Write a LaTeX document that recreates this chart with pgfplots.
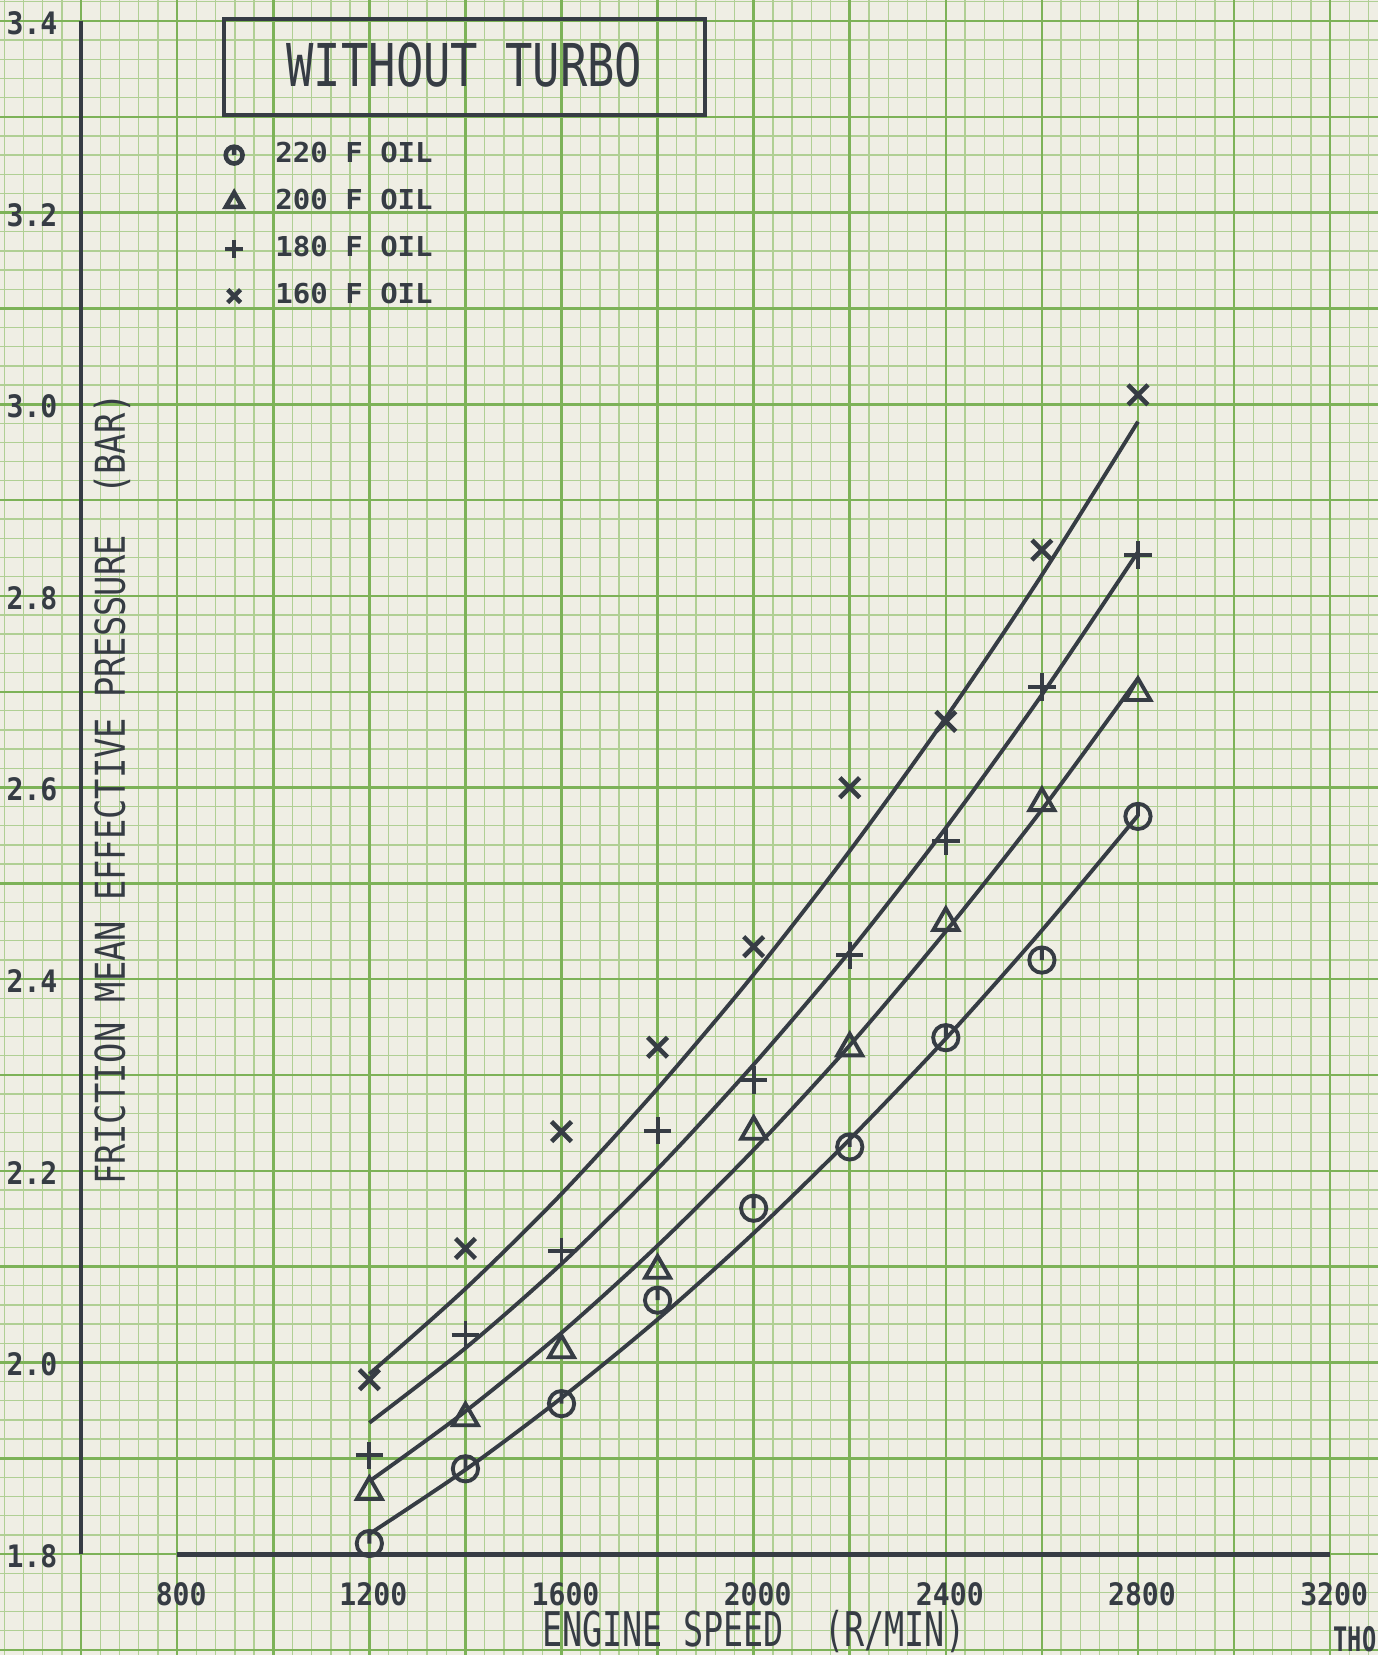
\documentclass[border=0pt]{standalone}
\usepackage{fontspec}
\usepackage{pgfplots}
\usepackage{pgfplotstable}
\pgfplotsset{compat=1.18}

% plotter lettering: a monospaced sans, squeezed or widened per use
\newfontfamily\titlefont[FakeStretch=0.77]{DejaVu Sans Mono}
\newfontfamily\xlabfont[FakeStretch=0.70]{DejaVu Sans Mono}
\newfontfamily\ylabfont[FakeStretch=0.82]{DejaVu Sans Mono}
\newfontfamily\tickfont[FakeStretch=0.91]{DejaVu Sans Mono}
\newfontfamily\legfont[FakeStretch=1.06]{DejaVu Sans Mono}

\definecolor{paper}{RGB}{239,238,228}
\definecolor{gridminor}{RGB}{176,207,148}
\definecolor{gridmajor}{RGB}{125,178,88}
\definecolor{ink}{RGB}{54,60,68}

% circle with a short stroke from the top down to the centre
\pgfdeclareplotmark{circtick}{%
  \pgfpathcircle{\pgfpointorigin}{\pgfplotmarksize}%
  \pgfpathmoveto{\pgfqpoint{0pt}{\pgfplotmarksize}}%
  \pgfpathlineto{\pgfpointorigin}%
  \pgfusepathqstroke}

% measured points (bar)
\pgfplotstableread{
rpm  c220  t200  p180  x160
1200 1.811 1.865 1.903 1.982
1400 1.889 1.942 2.029 2.119
1600 1.957 2.013 2.116 2.241
1800 2.065 2.096 2.242 2.329
2000 2.161 2.241 2.295 2.434
2200 2.225 2.328 2.425 2.600
2400 2.339 2.459 2.544 2.669
2600 2.420 2.584 2.705 2.848
2800 2.570 2.699 2.843 3.010
}\points

% fitted curves
\pgfplotstableread{
rpm  c220  t200  p180  x160
1200 1.821 1.876 1.937 1.988
1400 1.888 1.949 2.015 2.077
1600 1.963 2.031 2.103 2.176
1800 2.045 2.122 2.202 2.286
2000 2.135 2.222 2.311 2.405
2200 2.233 2.331 2.429 2.534
2400 2.338 2.450 2.558 2.673
2600 2.451 2.577 2.697 2.822
2800 2.571 2.714 2.846 2.982
}\curves

\begin{document}
\begin{tikzpicture}
\begin{axis}[
  width=137.8mm, height=165.5mm, scale only axis,
  xmin=431.1, xmax=3299.6, ymin=1.6946, ymax=3.4221,
  axis line style={draw=none},
  axis background/.style={fill=paper},
  xtick=\empty, ytick=\empty,
  clip=false,
  legend cell align=left,
  legend style={draw=none, fill=none, at={(0.1633,0.9205)}, anchor=north west,
    inner sep=0pt, outer sep=0pt, row sep=0pt,
    nodes={inner sep=0pt, minimum height=4.7mm, text=ink,
      font=\legfont\bfseries\fontsize{7.8pt}{8pt}\selectfont},
    /tikz/every odd column/.append style={column sep=3.2mm}},
]

% graph paper
\pgfplotsinvokeforeach{440,480,...,3280}{
  \draw[gridminor, line width=0.38pt] (axis cs:#1,1.6946) -- (axis cs:#1,3.4221);}
\pgfplotsinvokeforeach{1.70,1.72,...,3.42}{
  \draw[gridminor, line width=0.38pt] (axis cs:431.1,#1) -- (axis cs:3299.6,#1);}
\pgfplotsinvokeforeach{600,800,...,3200}{
  \draw[gridmajor, line width=0.72pt] (axis cs:#1,1.6946) -- (axis cs:#1,3.4221);}
\pgfplotsinvokeforeach{1.7,1.8,...,3.4}{
  \draw[gridmajor, line width=0.72pt] (axis cs:431.1,#1) -- (axis cs:3299.6,#1);}

% axes drawn where the plotter put them
\draw[ink, line width=1.4pt] (axis cs:800,1.8) -- (axis cs:3200,1.8);
\draw[ink, line width=1.2pt] (axis cs:600,1.8) -- (axis cs:600,3.4);
\pgfplotsinvokeforeach{800,1200,1600,2000,2400,2800,3200}{
  \draw[ink, line width=0.9pt] (axis cs:#1,1.8) ++(0,-1.1mm) -- ++(0,2.2mm);
  \node[text=ink, inner sep=0pt, font=\tickfont\bfseries\fontsize{8.8pt}{9pt}\selectfont]
    at (axis cs:#1,1.8) [yshift=-4mm, xshift=0.4mm] {#1};
}
\pgfplotsinvokeforeach{1.8,2.0,2.2,2.4,2.6,2.8,3.0,3.2,3.4}{
  \draw[ink, line width=0.9pt] (axis cs:600,#1) ++(-1.1mm,0) -- ++(2.1mm,0);
  \node[text=ink, anchor=east, inner sep=0pt, font=\tickfont\bfseries\fontsize{8.8pt}{9pt}\selectfont]
    at (axis cs:600,#1) [xshift=-2.3mm, yshift=-0.2mm] {#1};
}

\node[text=ink, anchor=base, inner sep=0pt, font=\xlabfont\fontsize{13.6pt}{14pt}\selectfont]
  at (axis cs:2000,1.7035) {ENGINE SPEED\ \ (R/MIN)};
\node[text=ink, rotate=90, inner sep=0pt, font=\ylabfont\fontsize{11.7pt}{12pt}\selectfont]
  at (axis cs:664,2.5985) {FRICTION MEAN EFFECTIVE PRESSURE\ \ (BAR)};
\node[text=ink, anchor=base west, inner sep=0pt, font=\xlabfont\bfseries\fontsize{9.6pt}{10pt}\selectfont]
  at (axis cs:3206,1.6985) {THO};

% title box
\draw[ink, line width=1.1pt] (axis cs:897.4,3.3021) rectangle (axis cs:1898.6,3.4023);
\node[text=ink, font=\titlefont\fontsize{16.8pt}{17pt}\selectfont]
  at (axis cs:1398,3.3542) {WITHOUT TURBO};

% fitted curves
\addplot[ink, line width=1.1pt, smooth, forget plot] table[x=rpm, y=c220] {\curves};
\addplot[ink, line width=1.1pt, smooth, forget plot] table[x=rpm, y=t200] {\curves};
\addplot[ink, line width=1.1pt, smooth, forget plot] table[x=rpm, y=p180] {\curves};
\addplot[ink, line width=1.1pt, smooth, forget plot] table[x=rpm, y=x160] {\curves};

% measured points
\addplot[ink, only marks, mark=circtick, mark size=3.6pt, line width=1.1pt, forget plot]
  table[x=rpm, y=c220] {\points};
\addplot[ink, only marks, mark=triangle, mark size=4.1pt, line width=1.1pt, forget plot]
  table[x=rpm, y=t200] {\points};
\addplot[ink, only marks, mark=+, mark size=3.9pt, line width=1.1pt, forget plot]
  table[x=rpm, y=p180] {\points};
\addplot[ink, only marks, mark=x, mark size=4pt, line width=1.3pt, forget plot]
  table[x=rpm, y=x160] {\points};

\addlegendimage{ink, only marks, mark=circtick, mark size=2.4pt, line width=1.3pt}
\addlegendentry{220 F OIL}
\addlegendimage{ink, only marks, mark=triangle, mark size=2.7pt, line width=1.3pt}
\addlegendentry{200 F OIL}
\addlegendimage{ink, only marks, mark=+, mark size=2.6pt, line width=1.3pt}
\addlegendentry{180 F OIL}
\addlegendimage{ink, only marks, mark=x, mark size=2.6pt, line width=1.3pt}
\addlegendentry{160 F OIL}
\end{axis}
\pgfresetboundingbox
\path[use as bounding box] (current axis.south west) rectangle (current axis.north east);
\end{tikzpicture}
\end{document}
